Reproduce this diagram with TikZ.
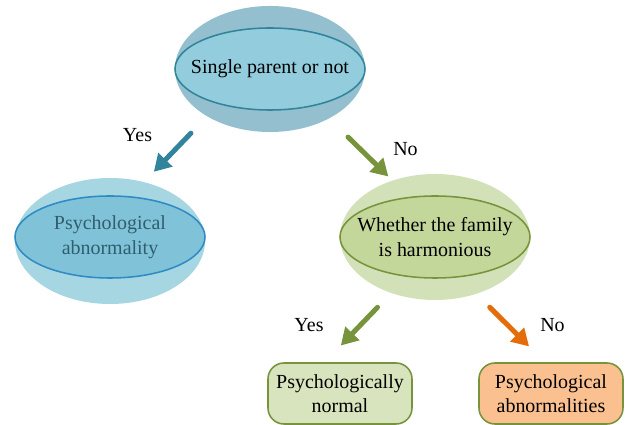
\documentclass[tikz,border=0pt]{standalone}
\usepackage{fontspec}
\setmainfont{Liberation Serif}
\usepackage{tikz}
\usetikzlibrary{arrows.meta,positioning,shapes.geometric}
\definecolor{tealline}{HTML}{31849B}
\definecolor{oliveline}{HTML}{77933C}
\definecolor{orangeline}{HTML}{E46C0A}
\definecolor{topshell}{HTML}{93BFCE}
\definecolor{topcore}{HTML}{93CDDD}
\definecolor{blueshell}{HTML}{A7D6E3}
\definecolor{bluecore}{HTML}{80C2D8}
\definecolor{blueline}{HTML}{2E8BC3}
\definecolor{bluetext}{HTML}{2F5E70}
\definecolor{greenshell}{HTML}{D3E1B9}
\definecolor{greencore}{HTML}{C4D79B}
\definecolor{greenleaf}{HTML}{D8E4BD}
\definecolor{orangeleaf}{HTML}{FAC090}

\begin{document}
\begin{tikzpicture}[x=0.025cm,y=-0.025cm,font={\fontsize{14.2}{17.5}\selectfont},
    shell/.style={ellipse,minimum width=4.75cm,minimum height=3.15cm,inner sep=0pt},
    core/.style={ellipse,minimum width=4.75cm,minimum height=2.05cm,inner sep=0pt,line width=1.1pt},
    caption/.style={align=center,inner sep=0pt},
    leaf/.style={rectangle,rounded corners=0.4cm,minimum width=3.6cm,minimum height=1.525cm,inner sep=0pt,line width=1.1pt,draw=oliveline,align=center},
    pointer/.style={-{Triangle[width=0.47cm,length=0.42cm]},line width=0.125cm,line cap=round}]

  \useasboundingbox (0,0) rectangle (627,425);

  % decision ellipses
  \node[shell,fill=topshell] (parentq) at (270,69) {};
  \node[core,fill=topcore,draw=tealline] (parentqin) at (parentq) {};
  \node[caption] (parentqtxt) at (parentqin) {Single parent or not};

  \node[shell,fill=blueshell] (abnormal) at (110,241) {};
  \node[core,fill=bluecore,draw=blueline] (abnormalin) at ([yshift=0.1cm]abnormal) {};
  \node[caption,text=bluetext] (abnormaltxt) at (abnormalin) {Psychological\\abnormality};

  \node[shell,fill=greenshell] (harmony) at (435,237) {};
  \node[core,fill=greencore,draw=oliveline] (harmonyin) at (harmony) {};
  \node[caption] (harmonytxt) at (harmonyin) {Whether the family\\is harmonious};

  % outcomes
  \node[leaf,fill=greenleaf] (psynormal) at (340,393.5) {Psychologically\\normal};
  \node[leaf,fill=orangeleaf] (psyabn) at (551,393.5) {Psychological\\abnormalities};

  \draw[pointer,tealline,shorten <=0.58cm,shorten >=0.35cm] (parentq.217) -- (abnormal.60.6);
  \draw[pointer,oliveline,shorten <=0.66cm,shorten >=0.14cm] (parentq.320.3) -- (harmony.127.5);
  \draw[pointer,oliveline,shorten <=0.49cm,shorten >=0.58cm] (harmony.232) -- (psynormal.116);
  \draw[pointer,orangeline,shorten <=0.47cm,shorten >=0.56cm] (harmony.306.6) -- (psyabn.101.9);

  \node (yes1) at (137.5,135) {Yes};
  \node (no1) at (405.5,149) {No};
  \node (yes2) at (309,325) {Yes};
  \node (no2) at (552.5,325) {No};
\end{tikzpicture}
\end{document}
